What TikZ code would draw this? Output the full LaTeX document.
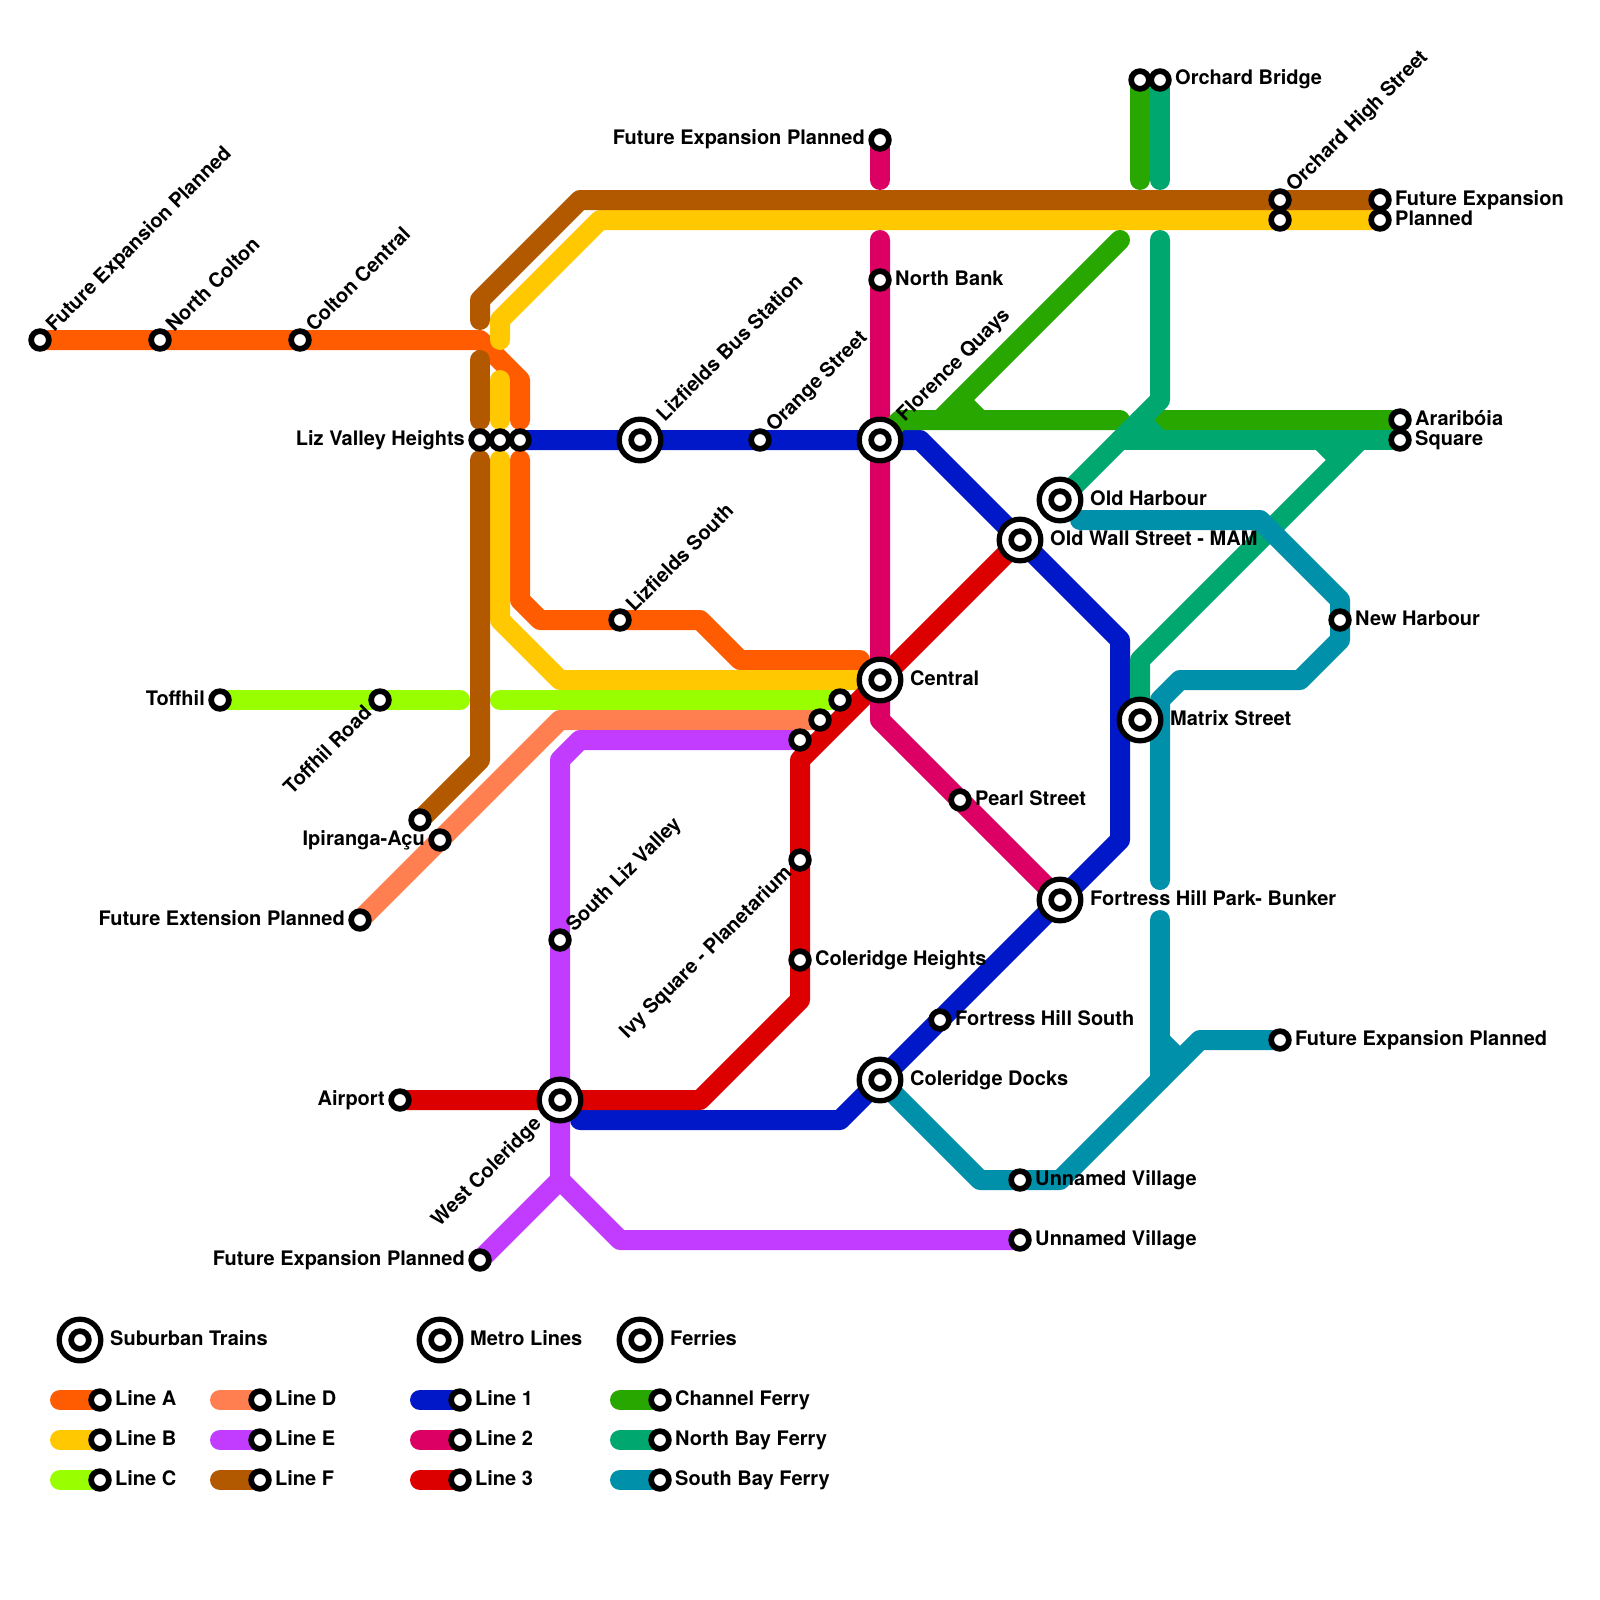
\documentclass[tikz,border=0pt]{standalone}
\usepackage{fontspec}
\setmainfont{TeX Gyre Heros}
\definecolor{lineA}{HTML}{ff5b00}
\definecolor{lineB}{HTML}{ffc800}
\definecolor{lineC}{HTML}{99ff00}
\definecolor{lineD}{HTML}{ff7f50}
\definecolor{lineE}{HTML}{c13cff}
\definecolor{lineF}{HTML}{b25900}
\definecolor{metroOne}{HTML}{0018c8}
\definecolor{metroTwo}{HTML}{dc0064}
\definecolor{metroThree}{HTML}{dc0000}
\definecolor{channel}{HTML}{28a700}
\definecolor{northBay}{HTML}{00a870}
\definecolor{southBay}{HTML}{0090aa}
\pgfdeclarelayer{lines}
\pgfsetlayers{lines,main}
\tikzset{
  route/.style = {line width=20pt, line cap=round, line join=round},
  rtA/.style = {route, draw=lineA},
  rtB/.style = {route, draw=lineB},
  rtC/.style = {route, draw=lineC},
  rtD/.style = {route, draw=lineD},
  rtE/.style = {route, draw=lineE},
  rtF/.style = {route, draw=lineF},
  rtOne/.style = {route, draw=metroOne},
  rtTwo/.style = {route, draw=metroTwo},
  rtThree/.style = {route, draw=metroThree},
  rtCh/.style = {route, draw=channel},
  rtNb/.style = {route, draw=northBay},
  rtSb/.style = {route, draw=southBay},
  stop/.style = {circle, draw=black, line width=5.7pt, fill=white,
    minimum size=17.7pt, inner sep=0pt},
  hub/.style = {stop, line width=5.3pt, minimum size=41.6pt, path picture={
    \draw[black, line width=5.7pt] (path picture bounding box.center) circle (8.85pt);}},
  tag/.style = {font=\bfseries\fontsize{20}{20}\selectfont, inner sep=0pt, text=black},
  tagE/.style = {tag, anchor=base west, xshift=#1, yshift=-5pt},
  tagE/.default = 15pt,
  tagW/.style = {tag, anchor=base east, xshift=-#1, yshift=-5pt},
  tagW/.default = 15pt,
  tagNE/.style = {tag, rotate=45, anchor=base west, xshift=#1, yshift=-5pt},
  tagNE/.default = 15pt,
  tagSW/.style = {tag, rotate=45, anchor=base east, xshift=-#1, yshift=-5pt},
  tagSW/.default = 15pt,
}
\begin{document}
\begin{tikzpicture}[x=20pt, y=-20pt]
\useasboundingbox (0,0) rectangle (80,80);

% stations
\node[stop] (farWest) at (2,17) {};
\node[tagNE] (farWestT) at (farWest) {Future Expansion Planned};
\node[stop] (northColton) at (8,17) {};
\node[tagNE] (northColtonT) at (northColton) {North Colton};
\node[stop] (coltonCentral) at (15,17) {};
\node[tagNE] (coltonCentralT) at (coltonCentral) {Colton Central};
\node[stop] (lizValley) at (24,22) {};
\node[tagW] (lizValleyT) at (lizValley) {Liz Valley Heights};
\node[stop] (lizValleyB) at (25,22) {};
\node[stop] (lizValleyA) at (26,22) {};
\node[hub] (lizBus) at (32,22) {};
\node[tagNE=30pt] (lizBusT) at (lizBus) {Lizfields Bus Station};
\node[stop] (orangeSt) at (38,22) {};
\node[tagNE] (orangeStT) at (orangeSt) {Orange Street};
\node[hub] (florence) at (44,22) {};
\node[tagNE=30pt] (florenceT) at (florence) {Florence Quays};
\node[stop] (northBank) at (44,14) {};
\node[tagE] (northBankT) at (northBank) {North Bank};
\node[stop] (farNorth) at (44,7) {};
\node[tagW] (farNorthT) at (farNorth) {Future Expansion Planned};
\node[stop] (orchardG) at (57,4) {};
\node[stop] (orchardB) at (58,4) {};
\node[tagE] (orchardBT) at (orchardB) {Orchard Bridge};
\node[stop] (orchardHigh) at (64,10) {};
\node[tagNE] (orchardHighT) at (orchardHigh) {Orchard High Street};
\node[stop] (orchardHighB) at (64,11) {};
\node[stop] (farEastF) at (69,10) {};
\node[tagE] (farEastFT) at (farEastF) {Future Expansion};
\node[stop] (farEastB) at (69,11) {};
\node[tagE] (farEastBT) at (farEastB) {Planned};
\node[stop] (arariboia) at (70,21) {};
\node[tagE] (arariboiaT) at (arariboia) {Araribóia};
\node[stop] (square) at (70,22) {};
\node[tagE] (squareT) at (square) {Square};
\node[hub] (oldHarbour) at (53,25) {};
\node[tagE=30pt] (oldHarbourT) at (oldHarbour) {Old Harbour};
\node[hub] (oldWall) at (51,27) {};
\node[tagE=30pt] (oldWallT) at (oldWall) {Old Wall Street - MAM};
\node[stop] (newHarbour) at (67,31) {};
\node[tagE] (newHarbourT) at (newHarbour) {New Harbour};
\node[hub] (central) at (44,34) {};
\node[tagE=30pt] (centralT) at (central) {Central};
\node[hub] (matrix) at (57,36) {};
\node[tagE=30pt] (matrixT) at (matrix) {Matrix Street};
\node[stop] (pearl) at (48,40) {};
\node[tagE] (pearlT) at (pearl) {Pearl Street};
\node[hub] (fortressPark) at (53,45) {};
\node[tagE=30pt] (fortressParkT) at (fortressPark) {Fortress Hill Park- Bunker};
\node[stop] (fortressSouth) at (47,51) {};
\node[tagE] (fortressSouthT) at (fortressSouth) {Fortress Hill South};
\node[stop] (farSouthEast) at (64,52) {};
\node[tagE] (farSouthEastT) at (farSouthEast) {Future Expansion Planned};
\node[hub] (coleridgeDocks) at (44,54) {};
\node[tagE=30pt] (coleridgeDocksT) at (coleridgeDocks) {Coleridge Docks};
\node[stop] (unnamedS) at (51,59) {};
\node[tagE] (unnamedST) at (unnamedS) {Unnamed Village};
\node[stop] (unnamedE) at (51,62) {};
\node[tagE] (unnamedET) at (unnamedE) {Unnamed Village};
\node[stop] (coleridgeH) at (40,48) {};
\node[tagE] (coleridgeHT) at (coleridgeH) {Coleridge Heights};
\node[stop] (ivy) at (40,43) {};
\node[tagSW] (ivyT) at (ivy) {Ivy Square - Planetarium};
\node[stop] (southLiz) at (28,47) {};
\node[tagNE] (southLizT) at (southLiz) {South Liz Valley};
\node[stop] (lizSouth) at (31,31) {};
\node[tagNE] (lizSouthT) at (lizSouth) {Lizfields South};
\node[hub] (westCol) at (28,55) {};
\node[tagSW=30pt] (westColT) at (westCol) {West Coleridge};
\node[stop] (airport) at (20,55) {};
\node[tagW] (airportT) at (airport) {Airport};
\node[stop] (farSouth) at (24,63) {};
\node[tagW] (farSouthT) at (farSouth) {Future Expansion Planned};
\node[stop] (farExt) at (18,46) {};
\node[tagW] (farExtT) at (farExt) {Future Extension Planned};
\node[stop] (ipiranga) at (22,42) {};
\node[tagW] (ipirangaT) at (ipiranga) {Ipiranga-Açu};
\node[stop] (toffhil) at (11,35) {};
\node[tagW] (toffhilT) at (toffhil) {Toffhil};
\node[stop] (toffhilRoad) at (19,35) {};
\node[tagSW] (toffhilRoadT) at (toffhilRoad) {Toffhil Road};
\node[stop] (ipirangaF) at (21,41) {};
\node[stop] (centralE) at (40,37) {};
\node[stop] (centralD) at (41,36) {};
\node[stop] (centralC) at (42,35) {};

% legend
\node[hub] (keySub) at (4,67) {};
\node[tagE=30pt] (keySubT) at (keySub) {Suburban Trains};
\node[hub] (keyMetro) at (22,67) {};
\node[tagE=30pt] (keyMetroT) at (keyMetro) {Metro Lines};
\node[hub] (keyFerry) at (32,67) {};
\node[tagE=30pt] (keyFerryT) at (keyFerry) {Ferries};
\node[stop] (keyA) at (5,70) {};
\node[tagE] (keyAT) at (keyA) {Line A};
\node[stop] (keyB) at (5,72) {};
\node[tagE] (keyBT) at (keyB) {Line B};
\node[stop] (keyC) at (5,74) {};
\node[tagE] (keyCT) at (keyC) {Line C};
\node[stop] (keyD) at (13,70) {};
\node[tagE] (keyDT) at (keyD) {Line D};
\node[stop] (keyE) at (13,72) {};
\node[tagE] (keyET) at (keyE) {Line E};
\node[stop] (keyF) at (13,74) {};
\node[tagE] (keyFT) at (keyF) {Line F};
\node[stop] (keyOne) at (23,70) {};
\node[tagE] (keyOneT) at (keyOne) {Line 1};
\node[stop] (keyTwo) at (23,72) {};
\node[tagE] (keyTwoT) at (keyTwo) {Line 2};
\node[stop] (keyThree) at (23,74) {};
\node[tagE] (keyThreeT) at (keyThree) {Line 3};
\node[stop] (keyCh) at (33,70) {};
\node[tagE] (keyChT) at (keyCh) {Channel Ferry};
\node[stop] (keyNb) at (33,72) {};
\node[tagE] (keyNbT) at (keyNb) {North Bay Ferry};
\node[stop] (keySb) at (33,74) {};
\node[tagE] (keySbT) at (keySb) {South Bay Ferry};

% bends and free ends
\coordinate (a1) at (24,17); \coordinate (a2) at (26,19); \coordinate (a3) at (26,21);
\coordinate (a4) at (26,23); \coordinate (a5) at (26,30); \coordinate (a6) at (27,31);
\coordinate (a7) at (35,31); \coordinate (a8) at (37,33); \coordinate (a9) at (43,33);
\coordinate (b1) at (30,11); \coordinate (b2) at (25,16); \coordinate (b3) at (25,17);
\coordinate (b4) at (25,19); \coordinate (b5) at (25,21); \coordinate (b6) at (25,23);
\coordinate (b7) at (25,31); \coordinate (b8) at (28,34); \coordinate (b9) at (43,34);
\coordinate (c1) at (23,35); \coordinate (c2) at (25,35);
\coordinate (d1) at (28,36);
\coordinate (e1) at (29,37); \coordinate (e2) at (28,38); \coordinate (e3) at (28,59);
\coordinate (e4) at (31,62);
\coordinate (f1) at (29,10); \coordinate (f2) at (24,15); \coordinate (f3) at (24,16);
\coordinate (f4) at (24,18); \coordinate (f5) at (24,21); \coordinate (f6) at (24,23);
\coordinate (f7) at (24,38);
\coordinate (m1) at (46,22); \coordinate (m2) at (56,32); \coordinate (m3) at (56,42);
\coordinate (m4) at (42,56); \coordinate (m5) at (29,56);
\coordinate (p1) at (44,9); \coordinate (p2) at (44,12); \coordinate (p3) at (44,36);
\coordinate (r1) at (35,55); \coordinate (r2) at (40,50); \coordinate (r3) at (40,38);
\coordinate (g1) at (45,21); \coordinate (g2) at (56,21); \coordinate (g3) at (56,12);
\coordinate (g4) at (47,21); \coordinate (g5) at (48,20); \coordinate (g6) at (49,21);
\coordinate (g7) at (57,9); \coordinate (g8) at (58,21);
\coordinate (h1) at (58,9); \coordinate (h2) at (58,12); \coordinate (h3) at (58,20);
\coordinate (h4) at (56,22); \coordinate (h5) at (58,22); \coordinate (h6) at (57,21);
\coordinate (h7) at (57,33); \coordinate (h8) at (68,22); \coordinate (h9) at (66,22);
\coordinate (h10) at (67,23);
\coordinate (s0) at (54,26); \coordinate (s1) at (63,26); \coordinate (s2) at (67,30);
\coordinate (s3) at (67,32); \coordinate (s4) at (65,34); \coordinate (s5) at (59,34);
\coordinate (s6) at (58,35); \coordinate (s7) at (58,44); \coordinate (s8) at (58,46);
\coordinate (s9) at (58,54); \coordinate (s10) at (49,59); \coordinate (s11) at (53,59);
\coordinate (s12) at (60,52); \coordinate (s13) at (58,52); \coordinate (s14) at (59,53);
\coordinate (kA) at (3,70); \coordinate (kB) at (3,72); \coordinate (kC) at (3,74);
\coordinate (kD) at (11,70); \coordinate (kE) at (11,72); \coordinate (kF) at (11,74);
\coordinate (kOne) at (21,70); \coordinate (kTwo) at (21,72); \coordinate (kThree) at (21,74);
\coordinate (kCh) at (31,70); \coordinate (kNb) at (31,72); \coordinate (kSb) at (31,74);

\begin{pgfonlayer}{lines}
% suburban
\draw[rtA] (farWest.center) -- (a1) -- (a2) -- (a3);
\draw[rtA] (a4) -- (a5) -- (a6) -- (a7) -- (a8) -- (a9);
\draw[rtB] (farEastB.center) -- (b1) -- (b2) -- (b3);
\draw[rtB] (b4) -- (b5);
\draw[rtB] (b6) -- (b7) -- (b8) -- (b9);
\draw[rtC] (toffhil.center) -- (c1);
\draw[rtC] (c2) -- (centralC.center);
\draw[rtD] (farExt.center) -- (d1) -- (centralD.center);
\draw[rtE] (centralE.center) -- (e1) -- (e2) -- (e3) -- (farSouth.center);
\draw[rtE] (e3) -- (e4) -- (unnamedE.center);
\draw[rtF] (farEastF.center) -- (f1) -- (f2) -- (f3);
\draw[rtF] (f4) -- (f5);
\draw[rtF] (f6) -- (f7) -- (ipirangaF.center);
% metro
\draw[rtOne] (lizValleyA.center) -- (m1) -- (m2) -- (m3) -- (m4) -- (m5);
\draw[rtThree] (airport.center) -- (r1) -- (r2) -- (r3) -- (oldWall.center);
\draw[rtTwo] (farNorth.center) -- (p1);
\draw[rtTwo] (p2) -- (p3) -- (fortressPark.center);
% ferries
\draw[rtCh] (florence.center) -- (g1) -- (g2);
\draw[rtCh] (g3) -- (g4);
\draw[rtCh] (g5) -- (g6);
\draw[rtCh] (orchardG.center) -- (g7);
\draw[rtCh] (g8) -- (arariboia.center);
\draw[rtNb] (orchardB.center) -- (h1);
\draw[rtNb] (h2) -- (h3) -- (oldHarbour.center);
\draw[rtNb] (h4) -- (square.center);
\draw[rtNb] (h6) -- (h5);
\draw[rtNb] (matrix.center) -- (h7) -- (h8);
\draw[rtNb] (h9) -- (h10);
\draw[rtSb] (s0) -- (s1) -- (s2) -- (s3) -- (s4) -- (s5) -- (s6) -- (s7);
\draw[rtSb] (s8) -- (s9);
\draw[rtSb] (coleridgeDocks.center) -- (s10) -- (s11) -- (s12) -- (farSouthEast.center);
\draw[rtSb] (s13) -- (s14);
% legend
\draw[rtA] (kA) -- (keyA.center);
\draw[rtB] (kB) -- (keyB.center);
\draw[rtC] (kC) -- (keyC.center);
\draw[rtD] (kD) -- (keyD.center);
\draw[rtE] (kE) -- (keyE.center);
\draw[rtF] (kF) -- (keyF.center);
\draw[rtOne] (kOne) -- (keyOne.center);
\draw[rtTwo] (kTwo) -- (keyTwo.center);
\draw[rtThree] (kThree) -- (keyThree.center);
\draw[rtCh] (kCh) -- (keyCh.center);
\draw[rtNb] (kNb) -- (keyNb.center);
\draw[rtSb] (kSb) -- (keySb.center);
\end{pgfonlayer}

\end{tikzpicture}
\end{document}
